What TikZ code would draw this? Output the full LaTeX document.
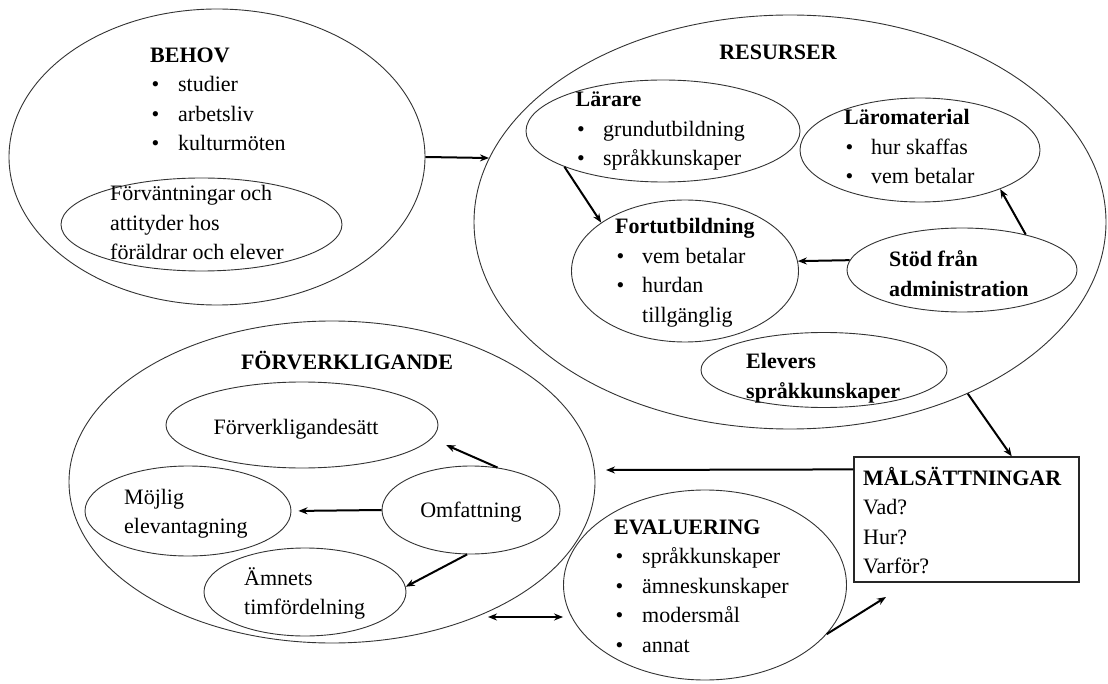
\documentclass[tikz,border=0pt]{standalone}
\usepackage{fontspec}
\setmainfont{Liberation Serif}
\usetikzlibrary{shapes.geometric,arrows.meta,calc}
\newcommand\mybul[1]{\makebox[#1][l]{\hspace{1.5pt}\textbullet}}
\begin{document}
\begin{tikzpicture}[x=1pt,y=-1pt,
  ell/.style={draw=black!80, line width=0.9pt, ellipse, inner sep=0pt},
  txt/.style={inner sep=0pt, anchor=base west, font=\fontsize{22}{29.5}\selectfont},
  ttl/.style={inner sep=0pt, anchor=base, font=\fontsize{22}{29.5}\selectfont\bfseries},
  arr/.style={line width=2pt, -{Stealth[length=9pt,width=7pt]}},
  darr/.style={line width=2pt, {Stealth[length=9pt,width=7pt]}-{Stealth[length=9pt,width=7pt]}},
]
\fill[white] (0,0) rectangle (1108,684);
\useasboundingbox (0,0) rectangle (1108,684);

% ---------- ellipses ----------
\node[ell, minimum width=416pt, minimum height=296pt] (behov) at (217,157) {};
\node[ell, minimum width=281pt, minimum height=93pt] (fv) at (201.5,224.5) {};
\node[ell, minimum width=632pt, minimum height=414pt] (res) at (790,222) {};
\node[ell, minimum width=274pt, minimum height=102pt] (lar) at (663,131) {};
\node[ell, minimum width=240pt, minimum height=104pt] (larom) at (920,150) {};
\node[ell, minimum width=227pt, minimum height=142pt] (fort) at (685,271) {};
\node[ell, minimum width=230pt, minimum height=84pt] (stod) at (962,270) {};
\node[ell, minimum width=246pt, minimum height=75pt] (elev) at (824,370) {};
\node[draw=black!85, line width=1.2pt, inner sep=0pt, minimum width=225pt, minimum height=125pt] (mal) at (966.5,519.5) {};
\node[ell, minimum width=526pt, minimum height=322pt] (forv) at (332,482) {};
\node[ell, minimum width=272pt, minimum height=86pt] (fs) at (302,425) {};
\node[ell, minimum width=206pt, minimum height=90pt] (moj) at (188,511) {};
\node[ell, minimum width=178pt, minimum height=88pt] (omf) at (471,510) {};
\node[ell, minimum width=202pt, minimum height=88pt] (amn) at (305,592) {};
\node[ell, minimum width=283pt, minimum height=190pt] (eval) at (705,585) {};

% ---------- texts ----------
\node[txt] (behovT) at (150,62.5) {\begin{tabular}[t]{@{}l@{}}\textbf{BEHOV}\\ \mybul{28pt}studier\\ \mybul{28pt}arbetsliv\\ \mybul{28pt}kulturmöten\end{tabular}};
\node[txt] (fvT) at (110,201) {\begin{tabular}[t]{@{}l@{}}Förväntningar och\\ attityder hos\\ föräldrar och elever\end{tabular}};
\node[ttl] (resT) at (778,59.5) {RESURSER};
\node[txt] (larT) at (575.5,107) {\begin{tabular}[t]{@{}l@{}}\textbf{Lärare}\\ \mybul{27.5pt}grundutbildning\\ \mybul{27.5pt}språkkunskaper\end{tabular}};
\node[txt] (laromT) at (844,125) {\begin{tabular}[t]{@{}l@{}}\textbf{Läromaterial}\\ \mybul{27pt}hur skaffas\\ \mybul{27pt}vem betalar\end{tabular}};
\node[txt] (fortT) at (615,234) {\begin{tabular}[t]{@{}l@{}}\textbf{Fortutbildning}\\ \mybul{27pt}vem betalar\\ \mybul{27pt}hurdan\\ \hspace{27pt}tillgänglig\end{tabular}};
\node[txt] (stodT) at (889,267) {\begin{tabular}[t]{@{}l@{}}\textbf{Stöd från}\\ \textbf{administration}\end{tabular}};
\node[txt] (elevT) at (746,369) {\begin{tabular}[t]{@{}l@{}}\textbf{Elevers}\\ \textbf{språkkunskaper}\end{tabular}};
\node[txt] (malT) at (863,485) {\begin{tabular}[t]{@{}l@{}}\textbf{MÅLSÄTTNINGAR}\\ Vad?\\ Hur?\\ Varför?\end{tabular}};
\node[ttl] (forvT) at (347,369.5) {FÖRVERKLIGANDE};
\node[txt, anchor=base] (fsT) at (296,434) {Förverkligandesätt};
\node[txt] (mojT) at (124,504) {\begin{tabular}[t]{@{}l@{}}Möjlig\\ elevantagning\end{tabular}};
\node[txt, anchor=base] (omfT) at (471,517) {Omfattning};
\node[txt] (amnT) at (244,585) {\begin{tabular}[t]{@{}l@{}}Ämnets\\ timfördelning\end{tabular}};
\node[txt] (evalT) at (614,534) {\begin{tabular}[t]{@{}l@{}}\textbf{EVALUERING}\\ \mybul{28pt}språkkunskaper\\ \mybul{28pt}ämneskunskaper\\ \mybul{28pt}modersmål\\ \mybul{28pt}annat\end{tabular}};

% ---------- connectors ----------
\coordinate (mtip) at (606,470);
\coordinate (dl) at (488,617);
\coordinate (etip) at (886,597);

\draw[arr] (behov.east) -- (res.168);
\draw[arr] (lar.-160) -- (fort.150);
\draw[arr] (stod.175) -- (fort.5);
\draw[arr] (stod.29) -- (larom.-26);
\draw[arr] (res.-44) -- ($(mal.north west)!0.7!(mal.north east)$);
\draw[arr] ([yshift=-13pt]mal.north west) -- (mtip);
\draw[arr, shorten >=16pt] (omf.58) -- (fs.-6);
\draw[arr, shorten >=7pt] (omf.west) -- (moj.east);
\draw[arr] (omf.-95) -- (amn.3);
\draw[darr] (dl) -- (dl -| eval.west);
\draw[arr] (eval.-22) -- (etip);
\end{tikzpicture}
\end{document}
